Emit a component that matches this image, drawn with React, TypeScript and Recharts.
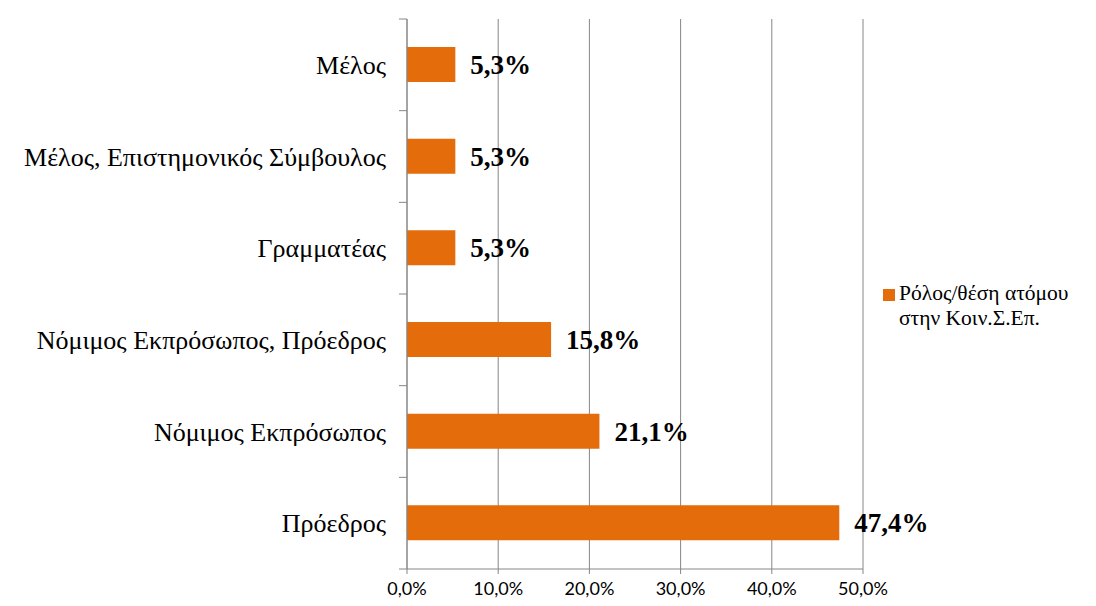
import { BarChart, Bar, XAxis, YAxis, CartesianGrid, LabelList } from "recharts";

const roles = [
  "Μέλος",
  "Μέλος, Επιστημονικός Σύμβουλος",
  "Γραμματέας",
  "Νόμιμος Εκπρόσωπος, Πρόεδρος",
  "Νόμιμος Εκπρόσωπος",
  "Πρόεδρος",
];
const shares = [5.3, 5.3, 5.3, 15.8, 21.1, 47.4];
const xTicks = [0, 10, 20, 30, 40, 50];
const seriesName = ["Ρόλος/θέση ατόμου", "στην Κοιν.Σ.Επ."];

const data = roles.map((role, i) => ({ role, share: shares[i] }));

const W = 1096;
const H = 606;
const xAxisH = 37;
const margin = { top: 19, right: 233, bottom: 0, left: 0 };
const axisW = 407;
const band = (H - margin.top - margin.bottom - xAxisH) / roles.length;

const fmt = (v: number) => v.toFixed(1).replace(".", ",") + "%";

const serif = "'Liberation Serif', 'Times New Roman', serif";
const gridColor = "#868686";
const barColor = "#E46C0A";

// category label plus a boundary tick above it (and below the last one)
function RoleTick(props: any) {
  const { x, y, payload, index } = props;
  const ax = axisW;
  return (
    <g>
      <line x1={ax - 8} x2={ax} y1={y - band / 2} y2={y - band / 2} stroke={gridColor} />
      {index === roles.length - 1 && (
        <line x1={ax - 8} x2={ax} y1={y + band / 2} y2={y + band / 2} stroke={gridColor} />
      )}
      <text x={x} y={y} dy={9} textAnchor="end" fontFamily={serif} fontSize={26} fill="#000">
        {payload.value}
      </text>
    </g>
  );
}

function SideLegend() {
  return (
    <div
      style={{
        position: "absolute",
        left: 883,
        top: 281,
        display: "flex",
        alignItems: "flex-start",
        fontFamily: serif,
        fontSize: 21.5,
        color: "#000",
        lineHeight: "25px",
      }}
    >
      <div style={{ width: 12, height: 12, background: barColor, marginTop: 8, marginRight: 4 }} />
      <div>
        {seriesName.map((line) => (
          <div key={line}>{line}</div>
        ))}
      </div>
    </div>
  );
}

export default function App() {
  return (
    <div style={{ position: "absolute", left: 0, top: 0, width: W, height: H, background: "#fff" }}>
      <BarChart width={W} height={H} data={data} layout="vertical" margin={margin}>
        <CartesianGrid horizontal={false} vertical stroke={gridColor} />
        <XAxis
          type="number"
          domain={[0, 50]}
          ticks={xTicks}
          tickFormatter={fmt}
          stroke={gridColor}
          tickSize={5}
          height={xAxisH}
          tick={{ fill: "#000", fontSize: 18, fontFamily: "Lato, 'Liberation Sans', sans-serif" }}
          tickMargin={8}
        />
        <YAxis
          type="category"
          dataKey="role"
          width={axisW}
          stroke={gridColor}
          tickLine={false}
          tick={<RoleTick />}
          tickMargin={15}
          interval={0}
        />
        <Bar dataKey="share" name={seriesName.join(" ")} fill={barColor} barSize={35} isAnimationActive={false}>
          <LabelList
            dataKey="share"
            position="right"
            offset={15}
            formatter={(v: any) => fmt(Number(v))}
            style={{ fontFamily: serif, fontSize: 27, fontWeight: "bold", fill: "#000" }}
          />
        </Bar>
      </BarChart>
      <SideLegend />
    </div>
  );
}
